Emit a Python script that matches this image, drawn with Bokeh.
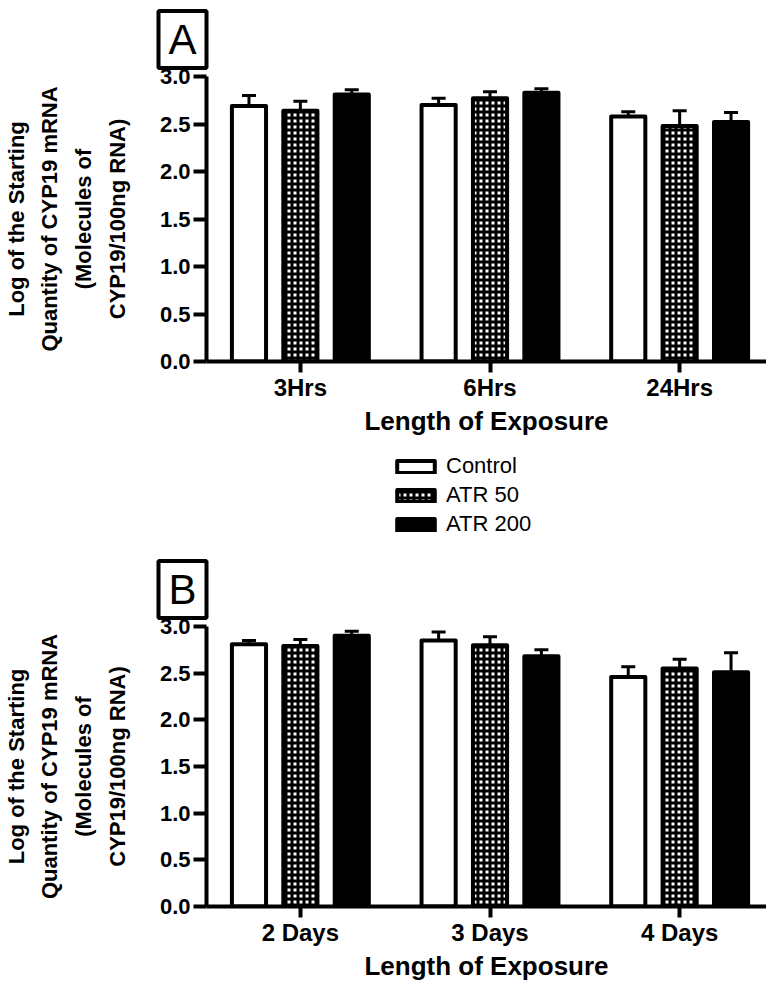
import numpy as np
from bokeh.plotting import figure
from bokeh.models import (ColumnDataSource, Range1d, FixedTicker, Whisker, TeeHead, Title,
                          Legend, LegendItem, PrintfTickFormatter)
from bokeh.layouts import column
from bokeh.embed import file_html
from bokeh.resources import INLINE

# ---------------- data ----------------
series = ["Control", "ATR 50", "ATR 200"]
cats_a = ["3Hrs", "6Hrs", "24Hrs"]
cats_b = ["2 Days", "3 Days", "4 Days"]

a_control = [2.69, 2.70, 2.58]
a_control_err = [0.11, 0.07, 0.05]
a_atr50 = [2.64, 2.77, 2.48]
a_atr50_err = [0.10, 0.07, 0.16]
a_atr200 = [2.81, 2.83, 2.52]
a_atr200_err = [0.05, 0.04, 0.10]

b_control = [2.81, 2.85, 2.46]
b_control_err = [0.04, 0.09, 0.11]
b_atr50 = [2.79, 2.80, 2.55]
b_atr50_err = [0.07, 0.09, 0.10]
b_atr200 = [2.90, 2.68, 2.51]
b_atr200_err = [0.05, 0.07, 0.21]

y_ticks = [0.0, 0.5, 1.0, 1.5, 2.0, 2.5, 3.0]
x_title = "Length of Exposure"
y_title = ["Log of the Starting", "Quantity of CYP19 mRNA", "(Molecules of", "CYP19/100ng RNA)"]

# ---------------- style ----------------
FONT = "Liberation Sans"
W = 766
OFFSET = 0.271
BAR_W = 0.18

STYLES = [
    dict(fill_color="white"),
    dict(fill_color="white", hatch_pattern="cross", hatch_scale=6, hatch_weight=3,
         hatch_color="black", hatch_alpha=1.0),
    dict(fill_color="black"),
]


def make_title(letter, offset, standoff):
    kw = dict(text=letter, align="left", offset=offset, standoff=standoff,
              text_font=FONT, text_font_size="42px", text_font_style="normal",
              text_color="black", border_line_color="black", border_line_width=4)
    try:
        return Title(padding=dict(x=10, y=5), **kw)
    except Exception:
        return Title(padding=5, **kw)


def make_panel(cats, values, errors, letter, height, border_top, border_bottom, title_standoff):
    p = figure(width=W, height=height, output_backend="svg", toolbar_location=None,
               x_range=Range1d(-0.495, 2.458), y_range=Range1d(0, 3.0),
               min_border_left=199, min_border_right=0,
               min_border_top=border_top, min_border_bottom=border_bottom)
    p.outline_line_color = None
    p.grid.visible = False
    p.background_fill_color = "white"
    p.border_fill_color = "white"
    p.title = make_title(letter, offset=-48, standoff=title_standoff)

    x = np.arange(len(cats))
    for i, (vals, errs, style) in enumerate(zip(values, errors, STYLES)):
        xs = x + (i - 1) * OFFSET
        vals = np.array(vals)
        errs = np.array(errs)
        src = ColumnDataSource(dict(x=xs, top=vals, upper=vals + errs))
        p.add_layout(Whisker(source=src, base="x", lower="top", upper="upper", lower_head=None,
                             upper_head=TeeHead(size=14, line_width=3, line_color="black"),
                             line_width=3, line_color="black"))
        p.vbar(x="x", top="top", bottom=0, width=BAR_W, source=src,
               line_color="black", line_width=4, line_join="round", **style)

    xa = p.xaxis[0]
    xa.ticker = FixedTicker(ticks=[int(v) for v in x])
    xa.major_label_overrides = {int(i): c for i, c in enumerate(cats)}
    xa.major_tick_out = 11
    xa.major_label_standoff = 1
    xa.major_label_text_font_size = "24px"
    xa.axis_label = x_title
    xa.axis_label_text_font_size = "26px"
    xa.axis_label_standoff = 2

    ya = p.yaxis[0]
    ya.ticker = FixedTicker(ticks=y_ticks)
    ya.formatter = PrintfTickFormatter(format="%.1f")
    ya.major_tick_out = 13
    ya.major_label_standoff = 3
    ya.major_label_text_font_size = "22px"
    ya.axis_label = "\n".join(y_title)
    ya.axis_label_text_font_size = "22px"
    ya.axis_label_text_line_height = 1.35
    ya.axis_label_standoff = 27

    for ax in (xa, ya):
        ax.axis_line_width = 4
        ax.axis_line_color = "black"
        ax.major_tick_line_width = 4
        ax.major_tick_line_color = "black"
        ax.major_tick_in = 0
        ax.minor_tick_line_color = None
        ax.major_label_text_font = FONT
        ax.major_label_text_font_style = "bold"
        ax.major_label_text_color = "black"
        ax.axis_label_text_font = FONT
        ax.axis_label_text_font_style = "bold"
        ax.axis_label_text_color = "black"
    return p


pA = make_panel(cats_a, [a_control, a_atr50, a_atr200], [a_control_err, a_atr50_err, a_atr200_err],
                "A", height=442, border_top=75, border_bottom=81, title_standoff=17)

# legend strip (its frame is aligned with the panels' frames by the column layout)
pL = figure(width=W, height=105, output_backend="svg", toolbar_location=None,
            x_axis_type=None, y_axis_type=None, min_border=0,
            x_range=Range1d(0, 1), y_range=Range1d(0, 1))
pL.outline_line_color = None
pL.grid.visible = False
items = []
for name, style in zip(series, STYLES):
    # legend-only proxies: a non-finite top means nothing is drawn in the plot area
    r = pL.vbar(x=[0.5], bottom=[0.0], top=[float("nan")], width=0.1, line_color="black",
                line_width=4, line_join="round", **style)
    items.append(LegendItem(label=name, renderers=[r]))
pL.add_layout(Legend(items=items, location=(186, 10), glyph_width=47, glyph_height=15,
                     label_height=15, spacing=3, padding=0, margin=0,
                     border_line_color=None, background_fill_alpha=0,
                     label_text_font=FONT, label_text_font_size="22px", label_text_color="black",
                     label_standoff=7))

pB = make_panel(cats_b, [b_control, b_atr50, b_atr200], [b_control_err, b_atr50_err, b_atr200_err],
                "B", height=436, border_top=79, border_bottom=71, title_standoff=17)

layout = column(pA, pL, pB, spacing=0)

with open("out.html", "w") as f:
    f.write(file_html(layout, INLINE))
